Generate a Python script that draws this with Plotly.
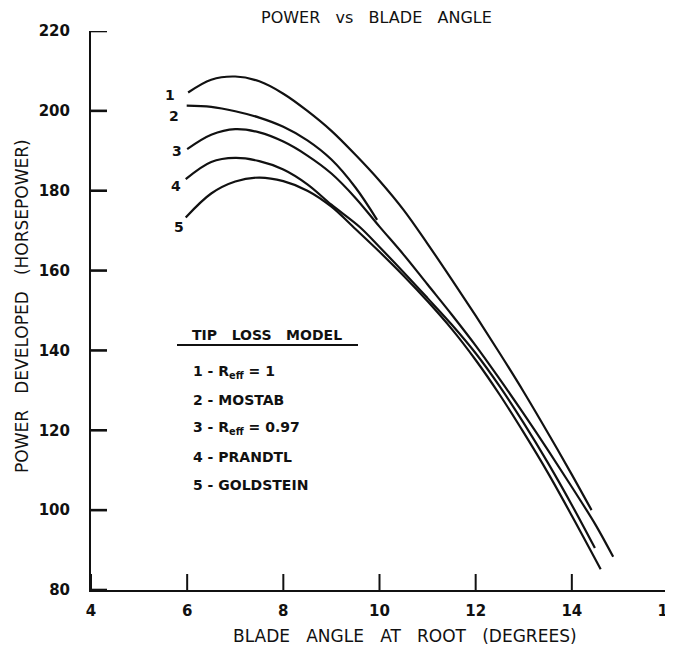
import plotly.graph_objects as go

# ---- data ----
x1 = [6.02, 6.5, 7.0, 7.5, 8.0, 8.5, 9.0, 9.5, 10.0, 10.5, 11.0, 11.5, 12.0, 12.5, 13.0, 13.5, 14.0, 14.41]
y1 = [204.6, 207.8, 208.6, 207.4, 204.3, 200.0, 195.0, 189.0, 182.5, 175.2, 166.7, 157.8, 148.7, 139.3, 129.6, 119.4, 108.9, 100.0]

x2 = [5.99, 6.5, 7.0, 7.5, 8.0, 8.5, 9.0, 9.5, 9.95]
y2 = [201.3, 201.0, 199.9, 198.3, 196.0, 192.6, 187.8, 180.8, 172.7]

x3 = [6.0, 6.5, 7.0, 7.5, 8.0, 8.5, 9.0, 9.5, 10.0, 10.5, 11.0, 11.5, 12.0, 12.5, 13.0, 13.5, 14.0, 14.5, 14.86]
y3 = [190.4, 194.0, 195.4, 194.6, 192.3, 188.8, 184.3, 178.2, 171.0, 164.0, 156.5, 149.0, 141.2, 132.8, 124.1, 115.1, 105.8, 96.2, 88.3]

x4 = [5.97, 6.5, 7.0, 7.5, 8.0, 8.5, 9.0, 9.6, 10.0, 10.5, 11.0, 11.5, 12.0, 12.5, 13.0, 13.5, 14.0, 14.48]
y4 = [182.9, 187.2, 188.2, 187.4, 185.3, 181.6, 176.5, 170.8, 165.9, 159.6, 153.1, 146.5, 139.3, 131.0, 121.8, 111.9, 101.3, 90.5]

x5 = [5.97, 6.5, 7.0, 7.5, 8.0, 8.5, 9.0, 9.5, 10.0, 10.5, 11.0, 11.5, 12.0, 12.5, 13.0, 13.5, 14.0, 14.6]
y5 = [173.3, 179.3, 182.3, 183.3, 182.4, 180.0, 176.0, 170.4, 164.7, 158.7, 152.3, 145.4, 137.6, 128.9, 119.4, 109.4, 98.6, 85.2]

curves = [("1", x1, y1), ("2", x2, y2), ("3", x3, y3), ("4", x4, y4), ("5", x5, y5)]

x_ticks = [4, 6, 8, 10, 12, 14, 16]
y_ticks = [80, 100, 120, 140, 160, 180, 200, 220]
x_min, x_max = 4, 16
y_min, y_max = 80, 220

legend_title = "TIP   LOSS   MODEL"
legend_items = ["1 - R<sub>eff</sub> = 1", "2 - MOSTAB", "3 - R<sub>eff</sub> = 0.97", "4 - PRANDTL", "5 - GOLDSTEIN"]

FONT = "DejaVu Sans"
INK = "#111111"

# page is offset by the body margin (8 px); figure sized to fill the window
OFF = 8
W, H = 673 - OFF, 657 - OFF
L, R, T, B = 91 - OFF, 5, 31 - OFF, 67
PW, PH = W - L - R, H - T - B
TICKLEN = 16


def page_to_paper(px, py):
    return (px - OFF - L) / PW, 1 - (py - OFF - T) / PH


fig = go.Figure()
for name, xs, ys in curves:
    fig.add_trace(go.Scatter(x=xs, y=ys, mode="lines", name=name,
                             line=dict(color=INK, width=2.2, shape="spline", smoothing=1.0),
                             showlegend=False, hoverinfo="skip"))

# inside tick marks built from the tick arrays (length converted to axis units)
dy = TICKLEN / PH * (y_max - y_min)
dx = TICKLEN / PW * (x_max - x_min)
tx_x, tx_y = [], []
for v in x_ticks:
    tx_x += [v, v, None]
    tx_y += [y_min, y_min + dy, None]
fig.add_trace(go.Scatter(x=tx_x, y=tx_y, mode="lines", line=dict(color=INK, width=2),
                         showlegend=False, hoverinfo="skip"))
ty_x, ty_y = [], []
for v in y_ticks:
    ty_x += [x_min, x_min + dx, None]
    ty_y += [v, v, None]
fig.add_trace(go.Scatter(x=ty_x, y=ty_y, mode="lines", line=dict(color=INK, width=2.6, simplify=False),
                         showlegend=False, hoverinfo="skip", connectgaps=False))

# curve number labels near the start of each curve
label_pos = [(163, 85), (167, 106), (170, 141), (169, 176), (172, 217)]
for (name, _, _), (px, py) in zip(curves, label_pos):
    ax, ay = page_to_paper(px, py)
    fig.add_annotation(x=ax, y=ay, xref="paper", yref="paper", text="<b>%s</b>" % name,
                       showarrow=False, font=dict(family=FONT, size=14, color=INK))

# legend block
ax, ay = page_to_paper(267, 335)
fig.add_annotation(x=ax, y=ay, xref="paper", yref="paper", text="<b>%s</b>" % legend_title,
                   showarrow=False, font=dict(family=FONT, size=14, color=INK),
                   xanchor="center", yanchor="middle")
u0x, u0y = page_to_paper(177, 345)
u1x, _ = page_to_paper(358, 345)
fig.add_shape(type="line", xref="paper", yref="paper", x0=u0x, x1=u1x, y0=u0y, y1=u0y,
              line=dict(color=INK, width=2))

item_y = [372, 400, 428, 457, 485]
for txt, py in zip(legend_items, item_y):
    lx, ly = page_to_paper(191, py)
    fig.add_annotation(x=lx, y=ly, xref="paper", yref="paper", text="<b>%s</b>" % txt,
                       showarrow=False, font=dict(family=FONT, size=14, color=INK),
                       xanchor="left", yanchor="middle")

# title and axis titles
tx, ty = page_to_paper(376, 18)
fig.add_annotation(x=tx, y=ty, xref="paper", yref="paper", text="POWER   vs   BLADE   ANGLE",
                   showarrow=False, font=dict(family=FONT, size=16, color=INK),
                   xanchor="center", yanchor="middle")
bx, by = page_to_paper(405, 636)
fig.add_annotation(x=bx, y=by, xref="paper", yref="paper",
                   text="BLADE   ANGLE   AT   ROOT   (DEGREES)",
                   showarrow=False, font=dict(family=FONT, size=17, color=INK),
                   xanchor="center", yanchor="middle")
lx, ly = page_to_paper(22, 306)
fig.add_annotation(x=lx, y=ly, xref="paper", yref="paper",
                   text="POWER   DEVELOPED   (HORSEPOWER)", textangle=-90,
                   showarrow=False, font=dict(family=FONT, size=17, color=INK),
                   xanchor="center", yanchor="middle")

fig.update_layout(
    width=W, height=H,
    margin=dict(l=L, r=R, t=T, b=B, autoexpand=False),
    paper_bgcolor="white", plot_bgcolor="white",
    font=dict(family=FONT, color=INK),
)
fig.update_xaxes(range=[x_min, x_max], tickmode="array", tickvals=x_ticks,
                 ticktext=["<b>%d</b>" % v for v in x_ticks],
                 showgrid=False, zeroline=False, showline=True, linecolor=INK, linewidth=2,
                 ticks="", ticklabelstandoff=6, ticklabeloverflow="allow",
                 tickfont=dict(family=FONT, size=15, color=INK))
fig.update_yaxes(range=[y_min, y_max], tickmode="array", tickvals=y_ticks,
                 ticktext=["<b>%d</b>" % v for v in y_ticks],
                 showgrid=False, zeroline=False, showline=True, linecolor=INK, linewidth=2,
                 ticks="", ticklabelstandoff=16, ticklabeloverflow="allow",
                 tickfont=dict(family=FONT, size=15, color=INK))

fig.write_html("out.html")
